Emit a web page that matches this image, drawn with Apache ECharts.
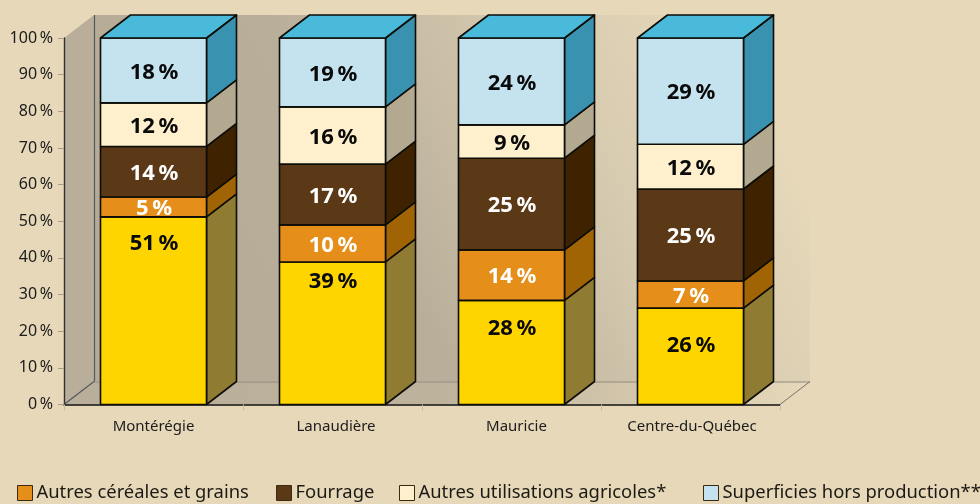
<!DOCTYPE html>
<html><head><meta charset="utf-8">
<style>html,body{margin:0;padding:0;background:#e6d8b9;overflow:hidden}#c{width:980px;height:504px}</style>
<script src="https://cdn.jsdelivr.net/npm/echarts@6/dist/echarts.min.js"></script>
</head><body><div id="c"></div>
<script>
const categories = ['Montérégie','Lanaudière','Mauricie','Centre-du-Québec'];
const yTicks = 10;
const basePart = [51.2, 38.9, 28.4, 26.3];
const cerealesPart = [5.4, 10.1, 13.8, 7.4];
const fourragePart = [13.8, 16.6, 25.0, 25.1];
const autresPart = [11.9, 15.6, 9.1, 12.2];
const horsPart = [17.7, 18.8, 23.7, 29.0];
const basePartLabelAt = [44.0, 33.4, 20.6, 16.1];
const seriesNames = ['Production principale','Autres céréales et grains','Fourrage','Autres utilisations agricoles*','Superficies hors production**'];
const legendNames = seriesNames.slice(1);
const legendLefts = [17, 276, 399, 703];
const categoryPad = [0, 7, 10, 3];

const front = ['#ffd500','#e58e1a','#5b3917','#fff0cd','#c4e3ef'];
const side  = ['#907b32','#a06405','#3f2300','#b3a890','#3993b0'];
const labelCol = ['#0a0a0a','#fff','#fff','#0a0a0a','#0a0a0a'];
const parts = [basePart, cerealesPart, fourragePart, autresPart, horsPart];
const DX = 30, DY = -23, BAR = 106 / 179;
const STROKE = '#0d0d08';

function makeBarSeries(k){
  const data = categories.map((c,i)=>{
    let b = 0; for(let j=0;j<k;j++) b += parts[j][i];
    const at = k===0 ? basePartLabelAt[i] : b + parts[k][i]/2 - 0.5;
    return [i, b, k===4 ? 100 : b + parts[k][i], at, Math.round(parts[k][i])];
  });
  return {
    type:'custom', name:seriesNames[k], z:5, data,
    itemStyle:{color:front[k]},
    encode:{x:0,y:[1,2]},
    renderItem(params, api){
      const i = api.value(0), lo = api.coord([i, api.value(1)]), hi = api.coord([i, api.value(2)]);
      const w = api.size([1,0])[0]*BAR;
      const x0 = lo[0]-w/2, x1 = lo[0]+w/2, y0 = lo[1], y1 = hi[1];
      const ls = {stroke:STROKE, lineWidth:1.6, lineJoin:'round'};
      const kids = [
        {type:'polygon',shape:{points:[[x1,y0],[x1+DX,y0+DY],[x1+DX,y1+DY],[x1,y1]]},style:{fill:side[k],...ls}},
        {type:'rect',shape:{x:x0,y:y1,width:w,height:y0-y1},style:{fill:front[k],...ls}}
      ];
      if(k===4) kids.push({type:'polygon',shape:{points:[[x0,y1],[x0+DX,y1+DY],[x1+DX,y1+DY],[x1,y1]]},style:{fill:'#4abadb',...ls}});
      const ty = api.coord([i, api.value(3)])[1];
      kids.push({type:'text',z2:10,x:lo[0]+0.5,y:ty,style:{text:api.value(4)+'\u2009%',fill:labelCol[k],
        font:'bold 22px "Noto Sans"',align:'center',verticalAlign:'middle'}});
      return {type:'group',children:kids};
    }
  };
}

const wallSeries = {
  type:'custom', name:'parois', z:1, silent:true, data:[[0,0]], encode:{x:0,y:1},
  renderItem(params, api){
    const c = params.coordSys, L=c.x, R=c.x+c.width, T=c.y, B=c.y+c.height;
    const grad = {type:'linear',x:0,y:1,x2:1,y2:0,colorStops:[
      {offset:0,color:'#b5aa95'},{offset:0.4,color:'#b9ae99'},{offset:0.68,color:'#d6cab0'},{offset:0.9,color:'#e6d8b9'},{offset:1,color:'#e6d8b9'}]};
    const line = {stroke:'#55575f',lineWidth:1.2};
    return {type:'group',children:[
      {type:'polygon',shape:{points:[[L+DX,T+DY],[R+DX,T+DY],[R+DX,B+DY],[L+DX,B+DY]]},style:{fill:grad}},
      {type:'polygon',shape:{points:[[L,T],[L+DX,T+DY],[L+DX,B+DY],[L,B]]},style:{fill:'#b9ae99'}},
      {type:'polygon',shape:{points:[[L,B],[L+DX,B+DY],[R+DX,B+DY],[R,B]]},style:{fill:{type:'linear',x:0,y:0,x2:1,y2:0,colorStops:[
        {offset:0,color:'#b9ae99'},{offset:0.5,color:'#bdb29c'},{offset:1,color:'#e6d8b9'}]}}},
      {type:'line',shape:{x1:L+DX+0.5,y1:T+DY,x2:L+DX+0.5,y2:B+DY},style:line},
      {type:'line',shape:{x1:L,y1:B,x2:L+DX,y2:B+DY},style:line},
      {type:'line',shape:{x1:L+DX,y1:B+DY+0.5,x2:R+DX,y2:B+DY+0.5},style:{stroke:'#8d897f',lineWidth:1}},
      {type:'line',shape:{x1:R,y1:B,x2:R+DX,y2:B+DY},style:{stroke:'#77736a',lineWidth:1}}
    ]};
  }
};

const catRich = {};
categoryPad.forEach((p,i)=>{catRich['c'+i]={color:'#1c1c1c',fontFamily:'Noto Sans',fontSize:15,padding:[0,0,0,p]};});

const chart = echarts.init(document.getElementById('c'),null,{renderer:'canvas'});
chart.setOption({
  animation:false,
  backgroundColor:'#e6d8b9',
  grid:{left:64,right:200,top:38,bottom:99.5},
  xAxis:{type:'category',data:categories,z:3,
    axisLine:{lineStyle:{color:'#111',width:1.6}},
    axisTick:{show:true,alignWithLabel:false,interval:0,length:6,lineStyle:{color:'#c9bea6'}},
    axisLabel:{color:'#1c1c1c',fontFamily:'Noto Sans',fontSize:15,margin:15,interval:0,hideOverlap:false,rich:catRich,
      formatter:(v,i)=>'{c'+i+'|'+v+'}'}},
  yAxis:{type:'value',min:0,max:100,interval:yTicks,z:3,
    axisLine:{show:true,lineStyle:{color:'#33332e',width:1.4}},
    axisTick:{show:true,length:6,lineStyle:{color:'#a89e88'}},
    splitLine:{show:false},
    axisLabel:{color:'#1c1c1c',fontFamily:'Noto Sans',fontSize:16,margin:11,padding:[2,0,0,0],formatter:'{value}\u2009%'}},
  legend:legendNames.map((n,i)=>({data:[n],left:legendLefts[i],top:484,itemWidth:15,itemHeight:15,padding:0,icon:'rect',
    selectedMode:false,
    itemStyle:{borderColor:'#3a2a10',borderWidth:1},
    textStyle:{color:'#1c1a14',fontFamily:'Noto Sans',fontSize:18.4,padding:[0,0,0,-1]}})),
  series:[wallSeries].concat(parts.map((p,k)=>makeBarSeries(k)))
});
</script></body></html>
